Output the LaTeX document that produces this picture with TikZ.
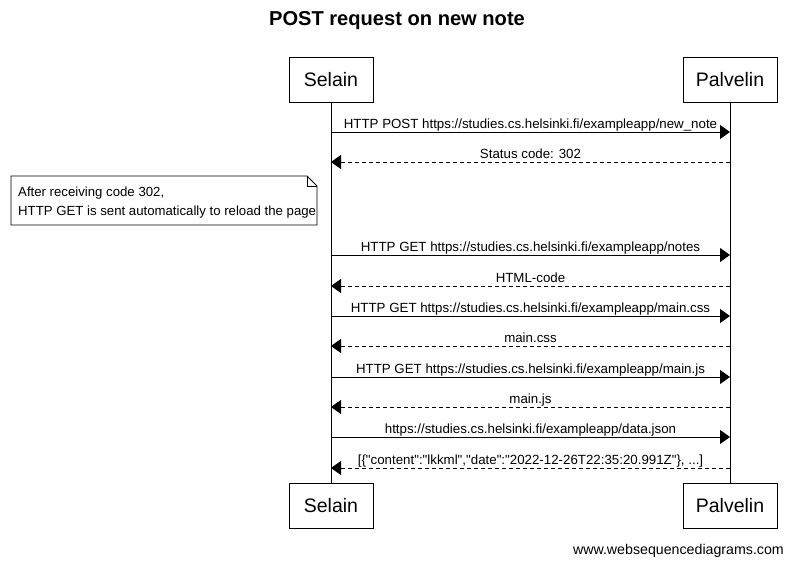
\documentclass[tikz,border=0pt]{standalone}
\usepackage{fontspec}
\setmainfont{Liberation Sans}[Ligatures=TeXOff]
\usetikzlibrary{arrows.meta}
\begin{document}
\begin{tikzpicture}[x=1pt,y=-1pt,
  actor/.style={draw,line width=0.8pt,minimum width=84pt,minimum height=45pt,inner sep=0pt,font=\fontsize{19.5}{22}\selectfont},
  msg/.style={line width=0.8pt,-{Triangle[length=10pt,width=14pt]}},
  ret/.style={msg,dash pattern=on 4pt off 3pt},
  lbl/.style={anchor=base,yshift=3.5pt,inner sep=0pt,font=\fontsize{13.3}{15}\selectfont},
  life/.style={line width=0.8pt}]
\useasboundingbox (0,0) rectangle (793,565);
\node[font=\bfseries\fontsize{20.1}{22}\selectfont] (title) at (397,21) {POST request on new note};
\node[actor] (selT) at (331,79.5) {Selain};
\node[actor,minimum width=94pt] (palT) at (730,79.5) {Palvelin};
\node[actor] (selB) at (331,506) {Selain};
\node[actor,minimum width=94pt] (palB) at (730,506) {Palvelin};
\draw[life] (selT) -- (selB);
\draw[life] (palT) -- (palB);
% messages
\foreach \i/\y in {1/132,2/162,3/255,4/286,5/316,6/346,7/377,8/407,9/437,10/468}{
  \coordinate (s\i) at (331,\y);
  \coordinate (p\i) at (730,\y);
}
\draw[msg] (s1) -- (p1) node[lbl,midway] {HTTP POST https://studies.cs.helsinki.fi/exampleapp/new\_note};
\draw[ret] (p2) -- (s2) node[lbl,midway] {Status code: 302};
\draw[msg] (s3) -- (p3) node[lbl,midway] {HTTP GET https://studies.cs.helsinki.fi/exampleapp/notes};
\draw[ret] (p4) -- (s4) node[lbl,midway] {HTML-code};
\draw[msg] (s5) -- (p5) node[lbl,midway] {HTTP GET https://studies.cs.helsinki.fi/exampleapp/main.css};
\draw[ret] (p6) -- (s6) node[lbl,midway] {main.css};
\draw[msg] (s7) -- (p7) node[lbl,midway] {HTTP GET https://studies.cs.helsinki.fi/exampleapp/main.js};
\draw[ret] (p8) -- (s8) node[lbl,midway] {main.js};
\draw[msg] (s9) -- (p9) node[lbl,midway] {https://studies.cs.helsinki.fi/exampleapp/data.json};
\draw[ret] (p10) -- (s10) node[lbl,midway] {[\{"content":"lkkml","date":"2022-12-26T22:35:20.991Z"\}, ...]};
% note
\draw[line width=0.8pt,fill=white] (11,176) -- (307,176) -- (317,186) -- (317,225) -- (11,225) -- cycle;
\draw[line width=0.8pt] (307,176) -- (307,186) -- (317,186);
\node[anchor=base west,align=left,inner sep=0pt,font=\fontsize{13.2}{19}\selectfont] (note) at (18,215) {After receiving code 302,\\HTTP GET is sent automatically to reload the page};
\node[anchor=base east,inner sep=0pt,font=\fontsize{14.2}{15}\selectfont] (wm) at (784,554) {www.websequencediagrams.com};
\end{tikzpicture}
\end{document}
